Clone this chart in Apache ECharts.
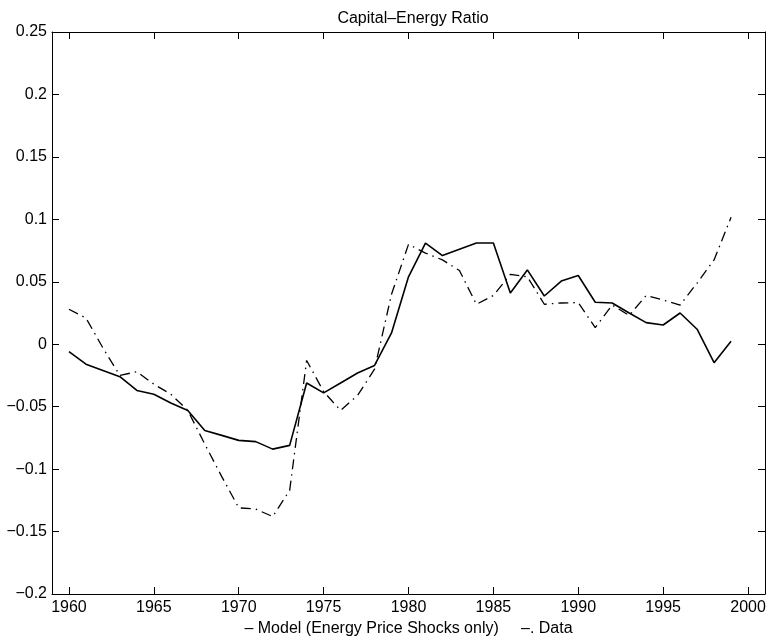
<!DOCTYPE html>
<html>
<head>
<meta charset="utf-8">
<script src="https://cdn.jsdelivr.net/npm/echarts@6/dist/echarts.min.js"></script>
<style>
  html, body { margin: 0; padding: 0; background: #fff; }
  #main { width: 769px; height: 643px; }
</style>
</head>
<body>
<div id="main"></div>
<script>
// years on the x axis
let years = []
for (let y = 1960; y <= 1999; y++) years.push(y)

// model (energy price shocks only), solid line
let model = [
  -0.006, -0.016, -0.021, -0.026, -0.037, -0.040, -0.047, -0.053, -0.069, -0.073,
  -0.077, -0.078, -0.084, -0.081, -0.031, -0.039, -0.031, -0.023, -0.017, 0.009,
  0.054, 0.081, 0.071, 0.076, 0.081, 0.081, 0.041, 0.0595, 0.0386, 0.0506,
  0.055, 0.0336, 0.033, 0.025, 0.0173, 0.0154, 0.025, 0.012, -0.0148, 0.0024
]

// data, dash-dot line
let data = [
  0.028, 0.021, -0.003, -0.025, -0.022, -0.032, -0.040, -0.053, -0.080, -0.106,
  -0.131, -0.132, -0.138, -0.117, -0.013, -0.038, -0.053, -0.041, -0.020, 0.040,
  0.080, 0.073, 0.0675, 0.059, 0.032, 0.039, 0.056, 0.054, 0.032, 0.033,
  0.0333, 0.0133, 0.0314, 0.023, 0.039, 0.0354, 0.0314, 0.049, 0.0675, 0.1016
]

// tick labels
let xTicks = [1960, 1965, 1970, 1975, 1980, 1985, 1990, 1995, 2000]
let titleText = 'Capital\u2013Energy Ratio'
let xLabelText = '\u2013 Model (Energy Price Shocks only)     \u2013. Data'

let font = 'Liberation Sans, Arial, Helvetica, sans-serif'

function pairs(vals) {
  return years.map((y, i) => [y, vals[i]])
}

function yFmt(v) {
  let s = String(+v.toFixed(2))
  if (s == '-0') s = '0'
  return s.replace('-', '\u2212')
}

var myChart = echarts.init(document.getElementById('main'), null, { renderer: 'canvas' })
var option = {
  animation: false,
  backgroundColor: '#fff',
  title: {
    text: titleText,
    left: 408,
    top: 6,
    textAlign: 'center',
    textStyle: { fontFamily: font, fontSize: 16, fontWeight: 'normal', color: '#000' }
  },
  grid: { left: 52, top: 32, right: 4, bottom: 49, containLabel: false },
  xAxis: [{
    type: 'value',
    min: 1959,
    max: 2001,
    position: 'bottom',
    name: xLabelText,
    nameLocation: 'middle',
    nameGap: 21,
    nameTextStyle: { fontFamily: font, fontSize: 16, color: '#000' },
    axisLine: { onZero: false, lineStyle: { color: '#000', width: 1 } },
    axisTick: { inside: true, length: 7, customValues: xTicks, lineStyle: { color: '#000' } },
    axisLabel: {
      customValues: xTicks, margin: 6, fontFamily: font, fontSize: 16, color: '#000',
      formatter: v => String(v)
    },
    splitLine: { show: false }
  }, {
    type: 'value',
    min: 1959,
    max: 2001,
    position: 'top',
    axisLine: { onZero: false, lineStyle: { color: '#000', width: 1 } },
    axisTick: { inside: true, length: 7, customValues: xTicks, lineStyle: { color: '#000' } },
    axisLabel: { show: false },
    splitLine: { show: false }
  }],
  yAxis: [{
    type: 'value',
    min: -0.2,
    max: 0.25,
    interval: 0.05,
    position: 'left',
    axisLine: { show: true, onZero: false, lineStyle: { color: '#000', width: 1 } },
    axisTick: { show: true, inside: true, length: 7, lineStyle: { color: '#000' } },
    axisLabel: { margin: 5, fontFamily: font, fontSize: 16, color: '#000', formatter: yFmt },
    splitLine: { show: false }
  }, {
    type: 'value',
    min: -0.2,
    max: 0.25,
    interval: 0.05,
    position: 'right',
    axisLine: { show: true, onZero: false, lineStyle: { color: '#000', width: 1 } },
    axisTick: { show: true, inside: true, length: 7, lineStyle: { color: '#000' } },
    axisLabel: { show: false },
    splitLine: { show: false }
  }],
  series: [{
    name: 'Model',
    type: 'line',
    xAxisIndex: 0,
    yAxisIndex: 0,
    data: pairs(model),
    symbol: 'none',
    lineStyle: { color: '#000', width: 1.6, type: 'solid' }
  }, {
    name: 'Data',
    type: 'line',
    xAxisIndex: 0,
    yAxisIndex: 0,
    data: pairs(data),
    symbol: 'none',
    lineStyle: { color: '#000', width: 1.3, type: [10, 5, 1.5, 5] }
  }]
}
myChart.setOption(option)
</script>
</body>
</html>
